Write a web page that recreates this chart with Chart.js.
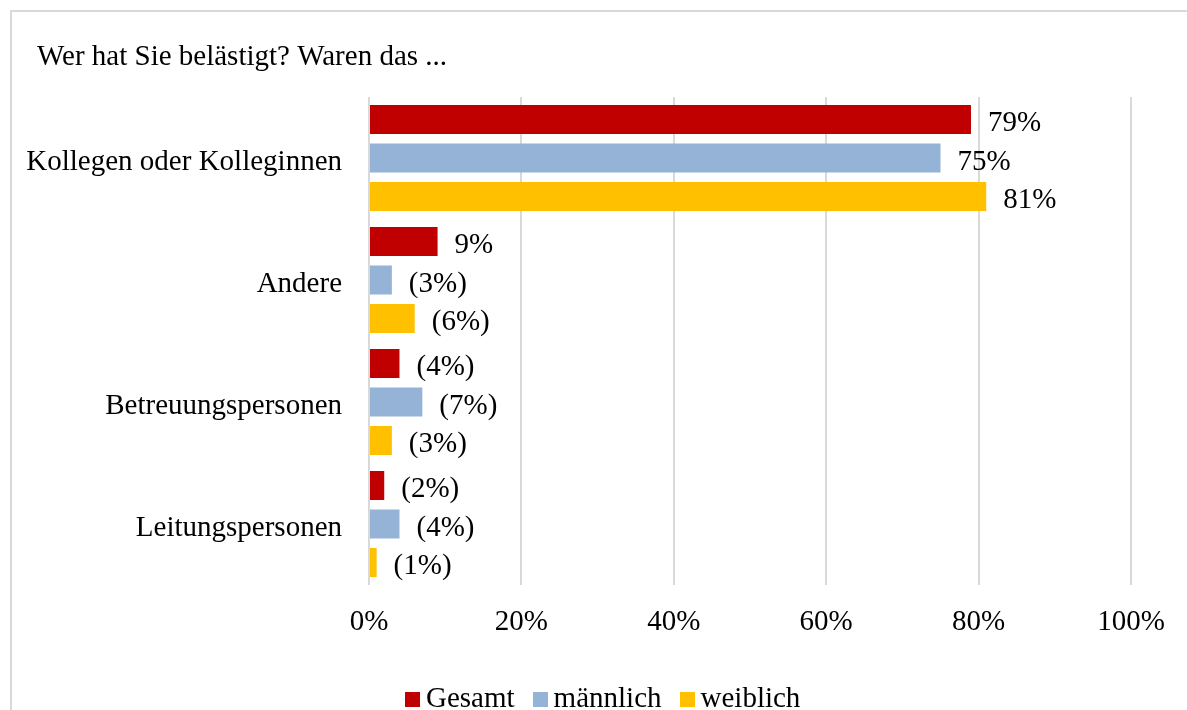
<!DOCTYPE html>
<html>
<head>
<meta charset="utf-8">
<script src="https://cdn.jsdelivr.net/npm/chart.js@4.4.1/dist/chart.umd.min.js"></script>
<style>
  html, body { margin: 0; padding: 0; width: 1187px; height: 710px; overflow: hidden; background: #fff; }
  #frame { position: absolute; left: 10px; top: 10px; width: 1300px; height: 800px; border: 2px solid #d9d9d9; box-sizing: border-box; }
  #wrap { position: absolute; left: 0; top: 0; width: 1187px; height: 710px; }
  #legend { position: absolute; left: 405px; top: 683px; white-space: nowrap; font-family: "Liberation Serif", serif; font-size: 29px; line-height: 29px; color: #000; }
  #legend .item { display: inline-block; }
  #legend .item + .item { margin-left: 18px; }
  #legend .box { display: inline-block; width: 15px; height: 15px; margin-right: 6px; vertical-align: baseline; }
</style>
</head>
<body>
<div id="frame"></div>
<div id="wrap"><canvas id="c"></canvas></div>
<div id="legend"></div>
<script>
const titleText = "Wer hat Sie belästigt? Waren das ...";
const categories = ["Kollegen oder Kolleginnen", "Andere", "Betreuungspersonen", "Leitungspersonen"];
const seriesNames = ["Gesamt", "männlich", "weiblich"];
const seriesColors = ["#C00000", "#95B3D7", "#FFC000"];
const gesamt = [79, 9, 4, 2];
const maennlich = [75, 3, 7, 4];
const weiblich = [81, 6, 3, 1];
const gesamtLabels = ["79%", "9%", "(4%)", "(2%)"];
const maennlichLabels = ["75%", "(3%)", "(7%)", "(4%)"];
const weiblichLabels = ["81%", "(6%)", "(3%)", "(1%)"];
const xTicks = [0, 20, 40, 60, 80, 100];

const FONT = "'Liberation Serif', serif";
const seriesValues = [gesamt, maennlich, weiblich];
const seriesLabels = [gesamtLabels, maennlichLabels, weiblichLabels];

const datasets = seriesNames.map((n, i) => ({
  label: n,
  data: seriesValues[i],
  valueLabels: seriesLabels[i],
  backgroundColor: seriesColors[i],
  borderWidth: 0,
  categoryPercentage: 0.947,
  barPercentage: 0.753
}));

const valueLabelPlugin = {
  id: 'valueLabels',
  afterDatasetsDraw(chart) {
    const ctx = chart.ctx;
    ctx.save();
    ctx.font = "29px " + FONT;
    ctx.fillStyle = "#000";
    ctx.textAlign = "left";
    ctx.textBaseline = "alphabetic";
    chart.data.datasets.forEach((ds, di) => {
      const meta = chart.getDatasetMeta(di);
      meta.data.forEach((bar, i) => {
        ctx.fillText(ds.valueLabels[i], bar.x + 17, bar.y + 11.5);
      });
    });
    ctx.restore();
  }
};

const titlePlugin = {
  id: 'leftTitle',
  afterDraw(chart) {
    const ctx = chart.ctx;
    ctx.save();
    ctx.font = "29px " + FONT;
    ctx.fillStyle = "#000";
    ctx.textAlign = "left";
    ctx.textBaseline = "alphabetic";
    ctx.fillText(titleText, 37, 65);
    ctx.restore();
  }
};

new Chart(document.getElementById('c'), {
  type: 'bar',
  data: { labels: categories, datasets },
  options: {
    indexAxis: 'y',
    responsive: true,
    maintainAspectRatio: false,
    devicePixelRatio: 1,
    animation: false,
    layout: { padding: { left: 10, right: 56, top: 97, bottom: 0 } },
    plugins: {
      legend: { display: false },
      tooltip: { enabled: false },
      title: { display: false }
    },
    scales: {
      x: {
        min: 0, max: 100,
        afterBuildTicks(scale) { scale.ticks = xTicks.map(v => ({ value: v })); },
        ticks: { callback: v => v + '%', color: '#000', font: { family: FONT, size: 29 }, padding: 20, maxRotation: 0 },
        grid: { color: '#d9d9d9', lineWidth: 2, drawTicks: false },
        border: { display: false },
        afterFit(scale) { scale.height = 125; }
      },
      y: {
        ticks: { color: '#000', font: { family: FONT, size: 29 }, padding: 27, labelOffset: 4 },
        grid: { display: false, drawTicks: false },
        border: { display: false },
        afterFit(scale) { scale.width = 359; }
      }
    }
  },
  plugins: [valueLabelPlugin, titlePlugin]
});

const legend = document.getElementById('legend');
seriesNames.forEach((n, i) => {
  const item = document.createElement('span');
  item.className = 'item';
  const box = document.createElement('span');
  box.className = 'box';
  box.style.background = seriesColors[i];
  item.appendChild(box);
  item.appendChild(document.createTextNode(n));
  legend.appendChild(item);
});
</script>
</body>
</html>
